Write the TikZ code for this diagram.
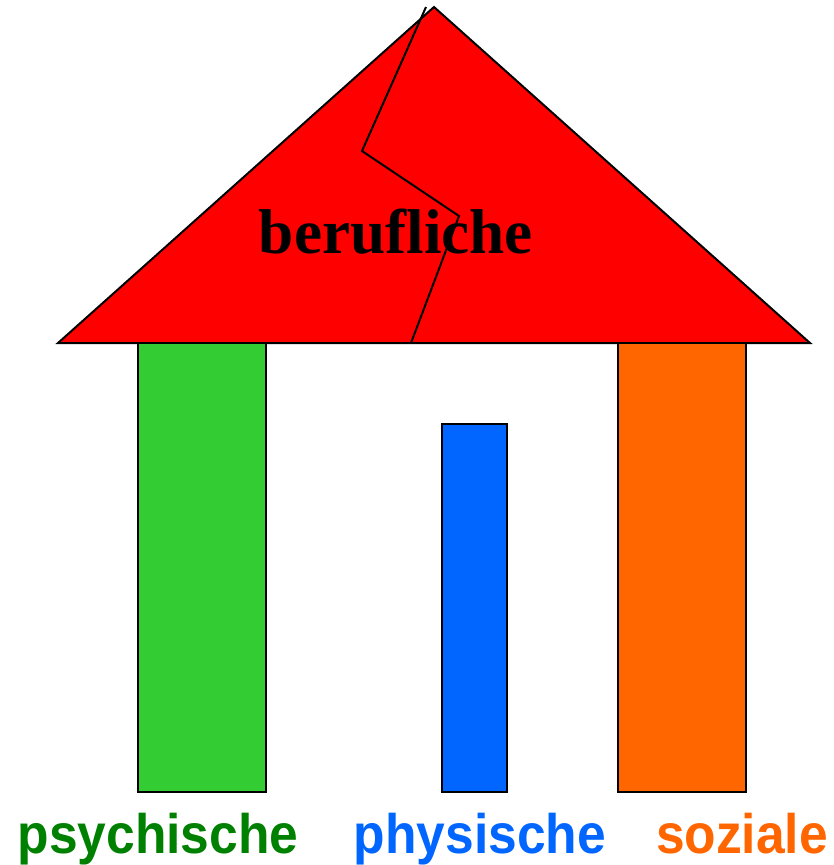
\documentclass[tikz,border=0pt]{standalone}
\usepackage{fontspec}
\setmainfont{Liberation Serif}
\setsansfont{Liberation Sans}
\usetikzlibrary{positioning}

\definecolor{roofred}{HTML}{FF0000}
\definecolor{psygreen}{HTML}{33CC33}
\definecolor{psytext}{HTML}{008000}
\definecolor{phyblue}{HTML}{0066FF}
\definecolor{sozorange}{HTML}{FF6600}

\begin{document}
\begin{tikzpicture}[x = 0.3mm, y = -0.3mm, % pixel grid, y downwards
                line join = miter,
                line width = 1.7pt % outline style
            ]

            \tikzstyle{pillar}=[draw = black, rectangle, inner sep = 0pt,
            outer sep = 0pt, anchor = south west]
            \tikzstyle{label}=[inner sep = 0pt, anchor = base, yscale = 1.08,
            font = \sffamily\bfseries\fontsize{44}{50}\selectfont]

            \useasboundingbox (0,0) rectangle (834,865);

            % roof
            \coordinate (left) at (58,343); \coordinate (top) at (434,7);
            \coordinate (right) at (810,343);
            \draw[fill = roofred] (left) -- (top) -- (right) -- cycle;

            % crack
            \coordinate (c1) at (426,7); \coordinate (c2) at (362,151);
            \coordinate (c3) at (459,216); \coordinate (c4) at (411,343);
            \draw (c1) -- (c2) -- (c3) -- (c4);

            \node (beruf) [inner sep = 0pt, anchor = base, font =
            \bfseries\fontsize{54}{60}\selectfont] at (396,253) {berufliche};

            % pillars
            \node (psy) [pillar, fill = psygreen, minimum width = 38.4mm,
            minimum height = 134.7mm] at (138,792) {};
            \node (phy) [pillar, fill = phyblue, minimum width = 19.5mm,
            minimum height = 110.4mm] at (442,792) {};
            \node (soz) [pillar, fill = sozorange, minimum width = 38.4mm,
            minimum height = 134.7mm] at (618,792) {};

            % labels
            \node (psylabel) [label, text = psytext] at (158,853) {psychische};
            \node (phylabel) [label, text = phyblue] at (480,853) {physische};
            \node (sozlabel) [label, text = sozorange] at (742,853) {soziale};
\end{tikzpicture}
\end{document}
